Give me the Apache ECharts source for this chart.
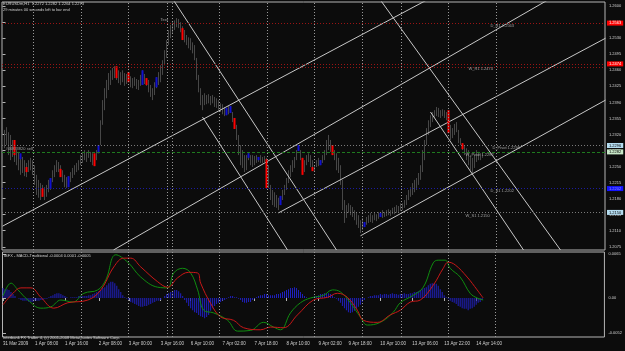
<!DOCTYPE html>
<html>
<head>
<meta charset="utf-8">
<title>EURUSDm,H1</title>
<script src="https://cdn.jsdelivr.net/npm/echarts@6/dist/echarts.min.js"></script>
<style>
  html, body { margin: 0; padding: 0; background: #0c0c0c; }
  #chart { width: 625px; height: 351px; }
</style>
</head>
<body>
<div id="chart"></div>
<script>
// bottom axis: bar index of each time label
const timeTicks = [0, 16, 31, 48, 63, 79, 94, 110, 126, 142, 158, 173, 189, 205, 221, 237];
const timeLabels = ["31 Mar 2009", "1 Apr 08:00", "1 Apr 16:00", "2 Apr 08:00", "3 Apr 00:00", "3 Apr 16:00",
  "6 Apr 10:00", "7 Apr 02:00", "7 Apr 18:00", "8 Apr 10:00", "9 Apr 02:00", "9 Apr 18:00",
  "10 Apr 10:00", "13 Apr 06:00", "13 Apr 22:00", "14 Apr 14:00"];
const priceTicks = [1.2075, 1.2110, 1.2145, 1.2180, 1.2215, 1.2250, 1.2285, 1.2320, 1.2355, 1.2390,
  1.2425, 1.2460, 1.2495, 1.2530, 1.2565, 1.2600];
const macdTicks = [0.0065, 0, -0.0052];
// period separators (bar index)
const daySeps = [15.3, 39.3, 62.8, 82.3, 84.8, 108.3, 132.3, 155.8, 179.8, 199.3, 222.8, 246.8];

// H1 bars, high / low
const highs = [
  1.2319, 1.2330, 1.2336, 1.2325, 1.2319, 1.2308, 1.2297, 1.2286, 1.2282, 1.2275,
  1.2271, 1.2264, 1.2258, 1.2264, 1.2269, 1.2264, 1.2253, 1.2232, 1.2221, 1.2214,
  1.2210, 1.2205, 1.2210, 1.2221, 1.2225, 1.2242, 1.2253, 1.2264, 1.2260, 1.2253,
  1.2242, 1.2232, 1.2227, 1.2229, 1.2238, 1.2247, 1.2253, 1.2258, 1.2264, 1.2275,
  1.2279, 1.2286, 1.2282, 1.2286, 1.2282, 1.2279, 1.2275, 1.2286, 1.2297, 1.2351,
  1.2395, 1.2421, 1.2439, 1.2454, 1.2460, 1.2465, 1.2469, 1.2465, 1.2460, 1.2456,
  1.2460, 1.2454, 1.2452, 1.2456, 1.2447, 1.2443, 1.2445, 1.2441, 1.2439, 1.2450,
  1.2460, 1.2452, 1.2443, 1.2439, 1.2428, 1.2421, 1.2434, 1.2445, 1.2456, 1.2471,
  1.2482, 1.2504, 1.2526, 1.2548, 1.2559, 1.2565, 1.2569, 1.2574, 1.2572, 1.2565,
  1.2556, 1.2548, 1.2537, 1.2532, 1.2530, 1.2521, 1.2515, 1.2487, 1.2450, 1.2421,
  1.2406, 1.2410, 1.2406, 1.2408, 1.2404, 1.2406, 1.2402, 1.2399, 1.2395, 1.2388,
  1.2386, 1.2380, 1.2378, 1.2382, 1.2382, 1.2369, 1.2356, 1.2341, 1.2319, 1.2297,
  1.2286, 1.2275, 1.2275, 1.2279, 1.2275, 1.2275, 1.2273, 1.2275, 1.2271, 1.2275,
  1.2271, 1.2273, 1.2269, 1.2253, 1.2210, 1.2199, 1.2194, 1.2188, 1.2182, 1.2186,
  1.2199, 1.2210, 1.2225, 1.2242, 1.2253, 1.2264, 1.2271, 1.2286, 1.2297, 1.2286,
  1.2269, 1.2264, 1.2275, 1.2279, 1.2275, 1.2264, 1.2253, 1.2264, 1.2269, 1.2264,
  1.2275, 1.2286, 1.2308, 1.2319, 1.2308, 1.2297, 1.2286, 1.2279, 1.2269, 1.2253,
  1.2221, 1.2177, 1.2166, 1.2170, 1.2166, 1.2162, 1.2155, 1.2151, 1.2144, 1.2133,
  1.2138, 1.2129, 1.2140, 1.2144, 1.2149, 1.2144, 1.2149, 1.2146, 1.2151, 1.2149,
  1.2155, 1.2151, 1.2155, 1.2157, 1.2155, 1.2160, 1.2162, 1.2166, 1.2164, 1.2170,
  1.2170, 1.2177, 1.2188, 1.2199, 1.2205, 1.2214, 1.2221, 1.2225, 1.2236, 1.2253,
  1.2286, 1.2308, 1.2334, 1.2351, 1.2362, 1.2369, 1.2373, 1.2380, 1.2378, 1.2373,
  1.2375, 1.2373, 1.2369, 1.2362, 1.2341, 1.2334, 1.2343, 1.2347, 1.2330, 1.2312,
  1.2301, 1.2297, 1.2290, 1.2286, 1.2275, 1.2269, 1.2275, 1.2286, 1.2282, 1.2279,
  1.2277
];
const lows = [
  1.2286, 1.2290, 1.2297, 1.2275, 1.2264, 1.2271, 1.2260, 1.2253, 1.2242, 1.2232,
  1.2236, 1.2229, 1.2227, 1.2238, 1.2242, 1.2232, 1.2210, 1.2188, 1.2182, 1.2177,
  1.2184, 1.2177, 1.2184, 1.2194, 1.2199, 1.2216, 1.2227, 1.2238, 1.2238, 1.2232,
  1.2216, 1.2205, 1.2203, 1.2208, 1.2216, 1.2225, 1.2232, 1.2238, 1.2242, 1.2253,
  1.2258, 1.2264, 1.2260, 1.2269, 1.2260, 1.2253, 1.2251, 1.2264, 1.2279, 1.2297,
  1.2341, 1.2373, 1.2399, 1.2417, 1.2428, 1.2439, 1.2443, 1.2439, 1.2432, 1.2428,
  1.2434, 1.2426, 1.2430, 1.2434, 1.2423, 1.2421, 1.2426, 1.2419, 1.2417, 1.2426,
  1.2428, 1.2430, 1.2426, 1.2412, 1.2402, 1.2395, 1.2406, 1.2421, 1.2428, 1.2434,
  1.2450, 1.2471, 1.2487, 1.2515, 1.2530, 1.2541, 1.2548, 1.2554, 1.2552, 1.2543,
  1.2530, 1.2521, 1.2515, 1.2508, 1.2504, 1.2497, 1.2482, 1.2439, 1.2412, 1.2384,
  1.2373, 1.2384, 1.2386, 1.2388, 1.2384, 1.2388, 1.2380, 1.2378, 1.2373, 1.2369,
  1.2364, 1.2360, 1.2362, 1.2364, 1.2367, 1.2347, 1.2332, 1.2308, 1.2275, 1.2253,
  1.2247, 1.2238, 1.2242, 1.2264, 1.2253, 1.2249, 1.2253, 1.2258, 1.2260, 1.2258,
  1.2258, 1.2260, 1.2253, 1.2203, 1.2177, 1.2166, 1.2162, 1.2160, 1.2155, 1.2166,
  1.2177, 1.2188, 1.2199, 1.2214, 1.2227, 1.2238, 1.2247, 1.2264, 1.2284, 1.2264,
  1.2232, 1.2238, 1.2253, 1.2260, 1.2249, 1.2242, 1.2240, 1.2249, 1.2251, 1.2253,
  1.2258, 1.2264, 1.2275, 1.2286, 1.2282, 1.2275, 1.2264, 1.2242, 1.2236, 1.2210,
  1.2155, 1.2127, 1.2138, 1.2149, 1.2144, 1.2140, 1.2133, 1.2123, 1.2116, 1.2105,
  1.2112, 1.2118, 1.2123, 1.2127, 1.2129, 1.2127, 1.2133, 1.2131, 1.2136, 1.2140,
  1.2138, 1.2140, 1.2142, 1.2144, 1.2142, 1.2146, 1.2146, 1.2149, 1.2151, 1.2153,
  1.2155, 1.2160, 1.2166, 1.2177, 1.2184, 1.2188, 1.2194, 1.2199, 1.2210, 1.2221,
  1.2238, 1.2264, 1.2297, 1.2319, 1.2336, 1.2347, 1.2356, 1.2360, 1.2358, 1.2356,
  1.2360, 1.2356, 1.2351, 1.2323, 1.2308, 1.2312, 1.2319, 1.2325, 1.2301, 1.2297,
  1.2286, 1.2275, 1.2264, 1.2253, 1.2242, 1.2236, 1.2247, 1.2260, 1.2264, 1.2264,
  1.2269
];

// highlighted bars: [bar, top, bottom]
const redBars = [
  [6, 1.2308, 1.2275], [12, 1.2249, 1.2238], [20, 1.2203, 1.2184], [29, 1.2245, 1.2227],
  [46, 1.2279, 1.2251], [57, 1.2469, 1.2443], [63, 1.2456, 1.2434], [72, 1.2443, 1.2428],
  [90, 1.2552, 1.2526], [116, 1.2356, 1.2332], [132, 1.2266, 1.2203], [150, 1.2269, 1.2232],
  [155, 1.2249, 1.2240], [165, 1.2297, 1.2275], [223, 1.2373, 1.2323], [230, 1.2301, 1.2288]
];
const blueBars = [
  [9, 1.2279, 1.2266], [24, 1.2225, 1.2201], [33, 1.2229, 1.2205], [48, 1.2297, 1.2279],
  [70, 1.2460, 1.2428], [77, 1.2445, 1.2423], [112, 1.2378, 1.2362], [114, 1.2382, 1.2367],
  [123, 1.2279, 1.2269], [128, 1.2271, 1.2264], [139, 1.2186, 1.2166], [148, 1.2297, 1.2284],
  [159, 1.2264, 1.2253], [181, 1.2129, 1.2118], [189, 1.2149, 1.2140]
];

// drawn trend lines: [bar1, price1, bar2, price2]
const trendLines = [
  [0, 1.2120, 212, 1.2613],
  [55.5, 1.2068, 272.5, 1.2613],
  [138, 1.2149, 301.5, 1.2530],
  [179, 1.2099, 301.5, 1.2395],
  [85.5, 1.2613, 167, 1.2068],
  [100, 1.2358, 142.5, 1.2068],
  [189, 1.2613, 279, 1.2068],
  [214, 1.2369, 260.5, 1.2068]
];

// horizontal levels
const levelPrices = [1.2563, 1.2474, 1.2467, 1.2296, 1.2282, 1.2273, 1.2202, 1.2150];
const levelNames = ["D_R1", "W_R1", "", "D_Pivot", "W_Pivot", "", "D_S1", "W_S1"];

// MACD histogram, one value per bar
const macdHist = [
  0.0015, 0.0013, 0.0013, 0.0012, 0.0009, 0.0006, 0.0003, 0, -0.0001, -0.0003,
  -0.0004, -0.0004, -0.0004, -0.0006, -0.0006, -0.0006, -0.0004, -0.0004, -0.0004, -0.0003,
  -0.0003, -0.0001, -0.0001, 0.0001, 0.0003, 0.0004, 0.0006, 0.0007, 0.0007, 0.0006,
  0.0004, 0.0003, 0.0001, 0, 0.0001, 0.0001, 0.0001, 0.0001, 0.0003, 0.0003,
  0.0003, 0.0003, 0.0003, 0.0004, 0.0004, 0.0006, 0.0007, 0.0009, 0.0010, 0.0012,
  0.0015, 0.0016, 0.0019, 0.0022, 0.0024, 0.0024, 0.0022, 0.0018, 0.0013, 0.0009,
  0.0004, 0.0001, -0.0001, -0.0003, -0.0006, -0.0007, -0.0009, -0.0010, -0.0012, -0.0013,
  -0.0013, -0.0012, -0.0012, -0.0010, -0.0009, -0.0007, -0.0006, -0.0004, -0.0004, -0.0003,
  0, 0.0003, 0.0006, 0.0007, 0.0009, 0.0010, 0.0012, 0.0012, 0.0010, 0.0007,
  0.0003, -0.0003, -0.0007, -0.0012, -0.0015, -0.0018, -0.0021, -0.0022, -0.0025, -0.0027,
  -0.0028, -0.0030, -0.0028, -0.0025, -0.0019, -0.0015, -0.0012, -0.0009, -0.0007, -0.0006,
  -0.0004, -0.0003, -0.0001, 0.0001, 0.0003, 0.0003, 0.0001, 0.0001, -0.0001, -0.0003,
  -0.0006, -0.0007, -0.0007, -0.0006, -0.0006, -0.0003, -0.0001, 0.0001, 0.0003, 0.0004,
  0.0004, 0.0006, 0.0006, 0.0004, 0.0004, 0.0004, 0.0004, 0.0006, 0.0006, 0.0007,
  0.0009, 0.0010, 0.0012, 0.0013, 0.0015, 0.0015, 0.0016, 0.0015, 0.0012, 0.0009,
  0.0006, 0.0003, 0.0001, 0, 0, 0.0001, 0.0003, 0.0003, 0.0004, 0.0006,
  0.0006, 0.0007, 0.0007, 0.0007, 0.0006, 0.0004, 0.0001, -0.0001, -0.0004, -0.0007,
  -0.0012, -0.0015, -0.0018, -0.0021, -0.0022, -0.0021, -0.0019, -0.0016, -0.0013, -0.0010,
  -0.0006, -0.0003, 0, 0.0001, 0.0003, 0.0003, 0.0004, 0.0004, 0.0004, 0.0006,
  0.0005, 0.0006, 0.0006, 0.0005, 0.0006, 0.0007, 0.0006, 0.0006, 0.0005, 0.0006,
  0.0006, 0.0007, 0.0006, 0.0006, 0.0007, 0.0007, 0.0009, 0.0009, 0.0010, 0.0012,
  0.0013, 0.0015, 0.0016, 0.0019, 0.0021, 0.0022, 0.0022, 0.0021, 0.0018, 0.0013,
  0.0009, 0.0004, 0.0001, -0.0001, -0.0004, -0.0006, -0.0007, -0.0009, -0.0012, -0.0013,
  -0.0015, -0.0016, -0.0016, -0.0018, -0.0016, -0.0015, -0.0013, -0.0010, -0.0007, -0.0006,
  -0.0003
];
// MACD main (green) and signal (red): [bar, value]
const macdMain = [
  [0, 0.0003], [4, 0.0022], [7.5, 0.0012], [12.5, -0.0003], [19, -0.0015], [24, -0.0013],
  [29, -0.0003], [35, -0.0006], [40.5, 0.0007], [47.5, 0.0012], [51.5, 0.0027], [56.5, 0.0064],
  [62.5, 0.0053], [69, 0.0031], [77.5, 0.0016], [82.5, 0.0015], [85.5, 0.0037], [90, 0.0044],
  [94, 0.0037], [97.5, 0.0012], [100.5, -0.0018], [105.5, -0.0022], [112.5, -0.0033], [117.5, -0.0049],
  [124, -0.0048], [130.5, -0.0036], [135.5, -0.0043], [139, -0.0047], [144, -0.0022], [149, -0.0007],
  [154, 0], [160.5, 0.0004], [165, 0.0012], [169, 0.0009], [174, -0.0007], [179, -0.0028],
  [182.5, -0.0040], [189, -0.0036], [195.5, -0.0021], [199, -0.0007], [205.5, 0.0004], [210.5, 0.0016],
  [215.5, 0.0052], [218, 0.0056], [221.5, 0.0056], [224, 0.0044], [229, 0.0031], [234, 0.0007],
  [237.5, 0], [240.5, -0.0003]
];
const macdSignal = [
  [0, -0.0010], [5, 0.0007], [9, 0.0015], [14, 0.0015], [19, 0.0001], [25.5, -0.0015],
  [32.5, -0.0007], [42.5, -0.0003], [49, 0.0012], [55.5, 0.0046], [60.5, 0.0059], [64, 0.0059],
  [69, 0.0046], [77.5, 0.0024], [82.5, 0.0016], [87.5, 0.0030], [93, 0.0038], [97.5, 0.0037],
  [99, 0.0022], [104, -0.0008], [109, -0.0028], [115.5, -0.0033], [120.5, -0.0044], [129, -0.0047],
  [134, -0.0043], [140.5, -0.0044], [147.5, -0.0025], [155.5, -0.0003], [162.5, 0.0001], [167.5, 0.0007],
  [172.5, 0.0001], [177.5, -0.0018], [180.5, -0.0033], [187.5, -0.0036], [194, -0.0025], [199, -0.0018],
  [204, -0.0006], [209, -0.0003], [215.5, 0.0019], [220.5, 0.0044], [223, 0.0053], [226.5, 0.0049],
  [232.5, 0.0031], [237.5, 0.0012], [240.5, 0]
];

const FONT = "Liberation Sans";
const TXT = "#d0d0d0";
const DOT = [1, 2];

const levelStyles = [
  { line: "#9a1414", type: DOT, box: "#ff0000", text: "#ffffff" },
  { line: "#9a1414", type: DOT, box: "#ff0000", text: "#ffffff" },
  { line: "#9a1414", type: DOT, box: null, text: null },
  { line: "#7a7a7a", type: DOT, box: "#b4dcf0", text: "#000000" },
  { line: "#1e7a1e", type: [3, 2], box: "#c8e8c8", text: "#000000" },
  { line: null, type: "solid", box: "#ffffff", text: "#000000" },
  { line: "#1c1ca0", type: DOT, box: "#1414ff", text: "#9090ff" },
  { line: "#7a7a7a", type: DOT, box: "#b4dcf0", text: "#000000" }
];

const chart = echarts.init(document.getElementById("chart"));

const candleData = highs.map((h, i) => [i, lows[i], h, lows[i], h]);
const markBars = list => list.map(([i, top, bottom]) => [i, bottom, top, bottom, top]);

const sepLines = daySeps.map(v => ({ xAxis: v }));

const levelLines = levelPrices.map((p, k) => {
  const s = levelStyles[k];
  return {
    yAxis: p,
    lineStyle: { color: s.line || "#000", type: s.type, width: 1, opacity: s.line ? 1 : 0 },
    label: {
      show: !!s.box, position: "end", distance: 2, formatter: p.toFixed(4),
      backgroundColor: s.box || "transparent", color: s.text || "#fff", fontSize: 4, fontFamily: FONT, padding: [1, 2, 0, 2]
    }
  };
});

const note = (coord, k) => ({
  coord: coord, symbolSize: 0,
  label: {
    show: true, position: "right", distance: 0, color: "#a0a0a0", fontSize: 4, fontFamily: FONT,
    formatter: typeof k === "number" ? levelNames[k] + " " + levelPrices[k].toFixed(4) : k
  }
});
const notes = [
  note([79, 1.2569], "Text"),
  note([244, 1.2556], 0),
  note([233, 1.2464], 1),
  note([245, 1.2290], 3),
  note([231.5, 1.2275], 4),
  note([244, 1.2197], 6),
  note([231.5, 1.2142], 7),
  note([1.5, 1.2288], "#46833820 sell")
];

const lineSeries = trendLines.map(([x1, y1, x2, y2]) => ({
  type: "line", xAxisIndex: 0, yAxisIndex: 0, data: [[x1, y1], [x2, y2]],
  symbol: "none", silent: true, clip: true, z: 3,
  lineStyle: { color: "#c8c8c8", width: 1 }
}));

const candleStyle = c => ({ color: c, color0: c, borderColor: c, borderColor0: c, borderWidth: 1 });

const sepMarkLine = extra => ({
  silent: true, symbol: ["none", "none"], animation: false, precision: 4,
  lineStyle: { color: "#9a9a9a", type: DOT, width: 1 },
  label: { show: false },
  data: sepLines.concat(extra)
});

chart.setOption({
  animation: false,
  backgroundColor: "#0c0c0c",
  textStyle: { fontFamily: FONT },
  title: [
    {
      text: "EURUSDm,H1  1.2272 1.2282 1.2264 1.2273",
      subtext: "29 minutes 00 seconds left to bar end",
      left: 3, top: 2, padding: 0, itemGap: 2,
      textStyle: { color: TXT, fontSize: 4, fontWeight: "normal", fontFamily: FONT },
      subtextStyle: { color: TXT, fontSize: 4, fontFamily: FONT }
    },
    {
      text: "IBFX - MACD-Traditional -0.0004 0.0001 -0.0005",
      left: 4, top: 254, padding: 0,
      textStyle: { color: TXT, fontSize: 4, fontWeight: "normal", fontFamily: FONT }
    },
    {
      text: "Interbank FX Trader 4, (c) 2001-2008 MetaQuotes Software Corp.",
      left: 3, top: 336, padding: 0,
      textStyle: { color: TXT, fontSize: 4, fontWeight: "normal", fontFamily: FONT }
    }
  ],
  grid: [
    { left: 2, top: 2, width: 603, height: 248, show: true, borderColor: "#b4b4b4", borderWidth: 1, backgroundColor: "transparent" },
    { left: 2, top: 252, width: 603, height: 85, show: true, borderColor: "#b4b4b4", borderWidth: 1, backgroundColor: "transparent" }
  ],
  xAxis: [
    {
      type: "value", gridIndex: 0, min: -0.25, max: 301.25,
      axisLine: { show: false }, axisTick: { show: false }, axisLabel: { show: false }, splitLine: { show: false }
    },
    {
      type: "value", gridIndex: 1, min: -0.25, max: 301.25,
      axisLine: { show: false }, splitLine: { show: false },
      axisTick: { show: true, customValues: timeTicks, length: 3, lineStyle: { color: "#b4b4b4" } },
      axisLabel: {
        customValues: timeTicks, align: "left", margin: 4, color: TXT, fontSize: 4.5, fontFamily: FONT,
        formatter: v => timeLabels[timeTicks.indexOf(v)]
      }
    }
  ],
  yAxis: [
    {
      type: "value", gridIndex: 0, position: "right", min: 1.2068, max: 1.2609,
      axisLine: { show: false }, splitLine: { show: false },
      axisTick: { show: true, customValues: priceTicks, length: 3, lineStyle: { color: "#b4b4b4" } },
      axisLabel: { customValues: priceTicks, margin: 4, color: TXT, fontSize: 4, fontFamily: FONT, formatter: v => v.toFixed(4) }
    },
    {
      type: "value", gridIndex: 1, position: "right", min: -0.00577, max: 0.00681,
      axisLine: { show: false }, splitLine: { show: false },
      axisTick: { show: true, customValues: macdTicks, length: 3, lineStyle: { color: "#b4b4b4" } },
      axisLabel: {
        customValues: macdTicks, margin: 4, color: TXT, fontSize: 4, fontFamily: FONT,
        formatter: v => (v === 0 ? "0.00" : v.toFixed(4))
      }
    }
  ],
  series: [
    {
      type: "candlestick", xAxisIndex: 0, yAxisIndex: 0, data: candleData,
      encode: { x: 0, y: [1, 2, 3, 4] }, barWidth: 1, silent: true, z: 2,
      itemStyle: candleStyle("#474747")
    },
    {
      // level lines, separators and text objects of the price window
      type: "line", xAxisIndex: 0, yAxisIndex: 0, data: [], silent: true, z: 1,
      markLine: sepMarkLine(levelLines),
      markPoint: { silent: true, animation: false, data: notes }
    },
    {
      type: "candlestick", xAxisIndex: 0, yAxisIndex: 0, data: markBars(redBars),
      encode: { x: 0, y: [1, 2, 3, 4] }, barWidth: 3, silent: true, z: 4,
      itemStyle: Object.assign(candleStyle("#ff0000"), { borderWidth: 0 })
    },
    {
      type: "candlestick", xAxisIndex: 0, yAxisIndex: 0, data: markBars(blueBars),
      encode: { x: 0, y: [1, 2, 3, 4] }, barWidth: 3, silent: true, z: 4,
      itemStyle: Object.assign(candleStyle("#1010d0"), { borderWidth: 0 })
    },
    ...lineSeries,
    {
      type: "bar", xAxisIndex: 1, yAxisIndex: 1, data: macdHist.map((v, i) => [i, v]),
      barWidth: 1, silent: true, itemStyle: { color: "#2020c0" },
      markLine: sepMarkLine([])
    },
    {
      type: "line", xAxisIndex: 1, yAxisIndex: 1, data: macdMain, smooth: 0.4,
      symbol: "none", silent: true, lineStyle: { color: "#108c10", width: 1 }
    },
    {
      type: "line", xAxisIndex: 1, yAxisIndex: 1, data: macdSignal, smooth: 0.4,
      symbol: "none", silent: true, lineStyle: { color: "#c81818", width: 1 }
    }
  ]
});
</script>
</body>
</html>
